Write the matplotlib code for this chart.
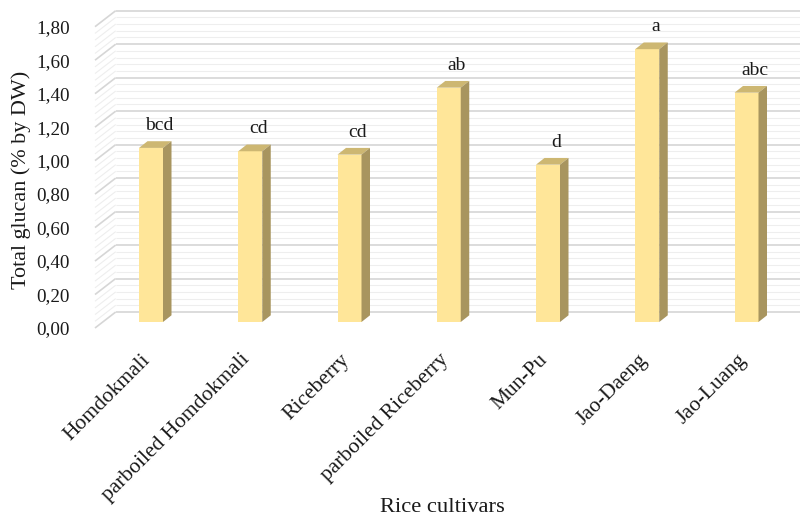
import matplotlib
matplotlib.use("Agg")
import matplotlib.pyplot as plt
from matplotlib.patches import Polygon
import numpy as np

# --- data -------------------------------------------------------------
cultivars = ["Homdokmali", "parboiled Homdokmali", "Riceberry",
             "parboiled Riceberry", "Mun-Pu", "Jao-Daeng", "Jao-Luang"]
glucan = [1.04, 1.02, 1.00, 1.40, 0.94, 1.63, 1.37]
letters = ["bcd", "cd", "cd", "ab", "d", "a", "abc"]
y_ticks = [0.0, 0.2, 0.4, 0.6, 0.8, 1.0, 1.2, 1.4, 1.6, 1.8]
y_tick_labels = ["0,00", "0,20", "0,40", "0,60", "0,80",
                 "1,00", "1,20", "1,40", "1,60", "1,80"]
y_label = "Total glucan (% by DW)"
x_label = "Rice cultivars"

plt.rcParams["font.family"] = ["Liberation Serif", "DejaVu Serif"]

W, H = 800, 521
fig = plt.figure(figsize=(W / 100, H / 100), dpi=100)

# front plane of the 3-D box, in figure pixels (from top-left)
left_px, right_px = 95.0, 779.0
bot_px, top_px = 328.0, 26.7
cat_px0, cat_step = 143.2, 99.25

ax = fig.add_axes([left_px / W, 1 - bot_px / H,
                   (right_px - left_px) / W, (bot_px - top_px) / H])
x0 = (left_px - cat_px0) / cat_step
x1 = (right_px - cat_px0) / cat_step
ax.set_xlim(x0, x1)
ax.set_ylim(0, 1.8)
for s in ax.spines.values():
    s.set_visible(False)
ax.set_xticks([])
ax.set_yticks(y_ticks, y_tick_labels, fontsize=13.8)
ax.tick_params(axis="y", length=0, pad=18, labelcolor="#1a1a1a")

kx = (x1 - x0) / (right_px - left_px)   # data units per pixel
ky = 1.8 / (bot_px - top_px)

# wall depth and bar placement (pixels)
wall_dx, wall_dy = 20.7, 16.0
bar_dx, bar_dy = 7.8, 6.0
bar_w_px = 24.0
depth_dx, depth_dy = 8.5, 6.7

# gridlines on side wall and back wall
n_minor = 5
grid_vals = []
for k in range(len(y_ticks) - 1):
    for j in range(n_minor):
        grid_vals.append((y_ticks[k] + (y_ticks[k + 1] - y_ticks[k]) * j / n_minor,
                          j == 0))
grid_vals.append((y_ticks[-1], True))
for v, major in grid_vals:
    col = "#d6d6d6" if major else "#eeeeee"
    lw = 1.2 if major else 0.8
    z = 1.5 if major else 1
    ax.plot([x0, x0 + wall_dx * kx], [v, v + wall_dy * ky],
            color=col, lw=lw, clip_on=False, zorder=z, solid_capstyle="butt")
    ax.plot([x0 + wall_dx * kx, x1 + wall_dx * kx],
            [v + wall_dy * ky] * 2, color=col, lw=lw, clip_on=False,
            zorder=z, solid_capstyle="butt")

# 3-D columns
front_c, top_c, side_c = "#FFE699", "#CDB772", "#A8955F"
bw = bar_w_px * kx
ddx, ddy = depth_dx * kx, depth_dy * ky
xs = np.arange(len(cultivars)) + bar_dx * kx
base = bar_dy * ky
ax.bar(xs, glucan, width=bw, bottom=base, color=front_c, zorder=3,
       linewidth=0)
for xc, val, lab in zip(xs, glucan, letters):
    xl, xr = xc - bw / 2, xc + bw / 2
    yt = base + val
    ax.add_patch(Polygon([(xl, yt), (xr, yt), (xr + ddx, yt + ddy),
                          (xl + ddx, yt + ddy)], closed=True,
                         facecolor=top_c, edgecolor="none", zorder=3))
    ax.add_patch(Polygon([(xr, base), (xr + ddx, base + ddy),
                          (xr + ddx, yt + ddy), (xr, yt)], closed=True,
                         facecolor=side_c, edgecolor="none", zorder=3))
    ax.text(xc + 8 * kx, yt + 18 * ky, lab, ha="center", va="baseline",
            fontsize=14, color="#1a1a1a", zorder=4)

# category labels
for i, name in enumerate(cultivars):
    ax.text(i + bar_dx * kx - 3 * kx, -(357 - bot_px) * ky, name,
            rotation=45, rotation_mode="anchor", ha="right", va="center",
            fontsize=15.5, color="#1a1a1a", clip_on=False)

fig.text(21 / W, 1 - 180 / H, y_label, rotation=90, ha="center",
         va="center", fontsize=15.9, color="#1a1a1a")
fig.text(442 / W, 1 - 507 / H, x_label, ha="center", va="center",
         fontsize=16.2, color="#1a1a1a")

fig.savefig("out.png", dpi=100, facecolor="white")
